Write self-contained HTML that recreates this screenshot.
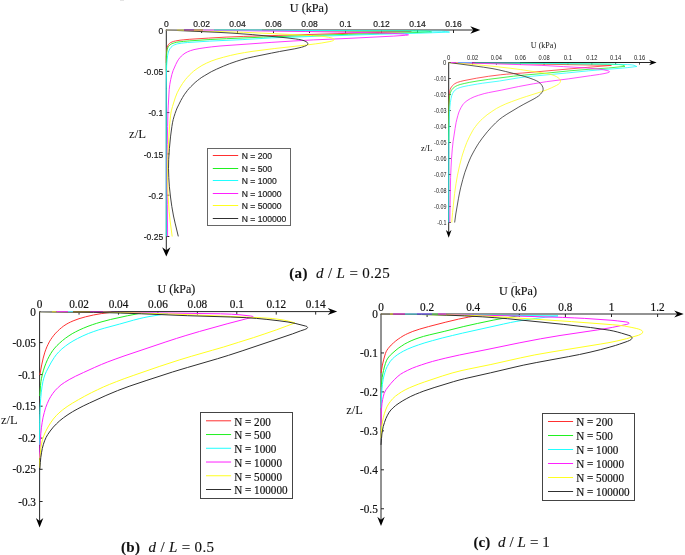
<!DOCTYPE html>
<html><head><meta charset="utf-8"><title>Figure</title>
<style>html,body{margin:0;padding:0;background:#fff;}svg{display:block;}</style></head>
<body><svg width="685" height="555" viewBox="0 0 685 555">
<rect width="685" height="555" fill="#fff"/>
<line x1="165.80" y1="30.00" x2="474.30" y2="30.00" stroke="#262626" stroke-width="1"/>
<line x1="166.30" y1="30.00" x2="166.30" y2="251.50" stroke="#262626" stroke-width="1"/>
<line x1="201.60" y1="30.00" x2="201.60" y2="33.00" stroke="#262626" stroke-width="1"/>
<line x1="237.50" y1="30.00" x2="237.50" y2="33.00" stroke="#262626" stroke-width="1"/>
<line x1="273.50" y1="30.00" x2="273.50" y2="33.00" stroke="#262626" stroke-width="1"/>
<line x1="309.50" y1="30.00" x2="309.50" y2="33.00" stroke="#262626" stroke-width="1"/>
<line x1="345.50" y1="30.00" x2="345.50" y2="33.00" stroke="#262626" stroke-width="1"/>
<line x1="381.50" y1="30.00" x2="381.50" y2="33.00" stroke="#262626" stroke-width="1"/>
<line x1="417.50" y1="30.00" x2="417.50" y2="33.00" stroke="#262626" stroke-width="1"/>
<line x1="453.50" y1="30.00" x2="453.50" y2="33.00" stroke="#262626" stroke-width="1"/>
<line x1="166.30" y1="71.30" x2="169.30" y2="71.30" stroke="#262626" stroke-width="1"/>
<line x1="166.30" y1="112.60" x2="169.30" y2="112.60" stroke="#262626" stroke-width="1"/>
<line x1="166.30" y1="153.90" x2="169.30" y2="153.90" stroke="#262626" stroke-width="1"/>
<line x1="166.30" y1="195.20" x2="169.30" y2="195.20" stroke="#262626" stroke-width="1"/>
<line x1="166.30" y1="236.50" x2="169.30" y2="236.50" stroke="#262626" stroke-width="1"/>
<path d="M480.30 30.00 L470.30 26.20 L473.30 30.00 L470.30 33.80 Z" fill="#000"/>
<path d="M166.30 256.50 L162.15 247.30 L166.30 250.30 L170.45 247.30 Z" fill="#000"/>
<g fill="none" stroke-width="0.90" stroke-linejoin="round" stroke-linecap="butt"><path d="M166.3 30.0 L411.3 31.5" stroke="#ff3030"/><path d="M411.3 31.5 L278.1 35.4 L243.8 36.4 L226.1 37.1 L208.6 38.1 L189.2 39.3 L183.9 39.8 L180.0 40.2 L175.3 41.0 L173.6 41.4 L172.0 42.0 L170.6 42.6 L169.6 43.3 L168.8 44.1 L168.2 44.9 L167.7 46.0 L167.3 47.4 L166.9 49.3 L166.6 51.8 L166.3 56.8 L166.3 63.0" stroke="#ff3030"/><path d="M166.3 30.0 L405.8 30.9 L426.0 31.1 L428.8 31.4 L431.7 32.0" stroke="#20f020"/><path d="M431.7 32.0 L407.0 32.8 L379.3 33.5 L348.8 34.3 L263.6 37.1 L226.4 38.7 L210.1 39.5 L189.2 40.9 L183.5 41.4 L179.0 41.9 L176.5 42.3 L174.6 42.8 L172.9 43.3 L171.3 44.0 L170.1 44.8 L169.2 45.6 L168.5 46.5 L167.8 47.8 L167.3 49.2 L166.9 50.7 L166.7 52.4 L166.5 54.4 L166.3 61.6 L166.3 71.3" stroke="#20f020"/><path d="M166.3 30.0 L414.3 30.9 L441.3 31.2 L445.5 31.5 L449.5 32.1" stroke="#20ffff"/><path d="M449.5 32.1 L428.0 32.9 L377.1 34.3 L287.1 37.3 L271.6 37.9 L242.9 39.6 L209.7 41.1 L187.5 42.5 L181.8 43.1 L177.6 43.8 L176.2 44.2 L174.8 44.7 L173.4 45.4 L172.4 46.0 L171.0 47.3 L169.8 48.9 L168.8 50.9 L168.1 53.0 L167.6 55.7 L167.2 59.2 L166.7 64.7 L166.5 69.7 L166.2 88.2 L166.3 236.4" stroke="#20ffff"/><path d="M166.3 30.0 L272.0 31.0 L305.8 31.5 L337.8 32.1 L372.3 32.8 L392.3 33.4 L398.8 33.7 L404.5 34.1 L407.5 34.4 L408.2 34.6 L408.5 34.8 L408.3 34.9 L407.8 35.1 L405.4 35.3 L393.7 36.1 L346.0 38.5 L313.3 39.9 L293.1 41.0 L271.1 42.4 L220.0 46.0 L211.3 46.9 L205.1 47.7 L199.1 48.6 L194.0 49.6 L190.6 50.6 L187.6 51.8 L185.0 53.2 L182.6 55.0 L181.3 56.1 L180.0 57.6 L178.7 59.2 L177.5 61.1 L175.8 64.4 L173.1 70.6 L171.9 74.4 L170.7 79.5 L169.8 84.4 L169.2 89.6 L168.3 105.1 L167.9 113.3 L167.6 126.6 L167.3 144.6 L167.1 162.3 L167.1 181.6 L167.3 204.3 L167.6 236.5" stroke="#ff20ff"/><path d="M166.3 30.0 L214.8 31.4 L243.3 32.3 L274.5 33.7 L312.4 35.6 L321.7 36.3 L325.1 36.7 L328.6 37.3 L331.0 37.8 L332.6 38.3 L333.6 38.8 L333.9 39.2 L334.0 39.5 L333.9 40.0 L333.4 40.5 L332.6 40.8 L331.5 41.2 L329.1 41.7 L321.2 43.1 L315.3 43.9 L306.6 45.0 L274.8 48.5 L252.0 51.4 L244.6 52.6 L237.9 53.8 L230.6 55.4 L223.6 57.2 L216.9 59.1 L211.2 61.1 L206.4 63.2 L201.9 65.5 L197.1 68.6 L193.3 71.4 L191.5 73.1 L189.3 75.2 L187.3 77.4 L185.6 79.3 L182.5 83.5 L179.6 88.2 L177.2 92.8 L175.2 97.9 L172.5 106.5 L171.3 110.9 L170.5 115.8 L169.8 123.3 L168.7 139.0 L167.8 157.7 L167.6 168.9 L167.7 182.7 L168.2 197.4 L169.1 211.4 L170.1 220.9 L172.2 236.5" stroke="#ffff20"/><path d="M166.3 30.0 L219.0 32.4 L233.0 33.2 L252.2 34.6 L281.0 37.3 L287.0 37.9 L295.2 38.9 L298.7 39.4 L301.4 39.9 L304.0 40.7 L306.0 41.6 L307.3 42.5 L307.7 43.1 L307.8 43.6 L307.8 44.1 L307.6 44.5 L307.2 45.0 L306.5 45.5 L304.5 46.3 L301.4 47.3 L294.8 48.8 L279.6 51.5 L271.5 53.1 L253.8 56.7 L247.5 58.1 L241.9 59.6 L236.2 61.4 L229.6 63.7 L223.6 66.1 L216.5 69.2 L211.3 71.7 L204.8 75.5 L201.8 77.3 L199.6 78.9 L197.4 80.6 L195.1 82.5 L190.8 86.7 L188.9 88.7 L187.3 90.6 L184.2 94.8 L182.5 97.6 L180.9 100.4 L179.0 104.2 L177.1 108.0 L176.0 110.8 L175.0 113.6 L174.0 116.7 L173.2 119.6 L172.5 122.8 L171.9 126.5 L170.6 136.1 L169.4 148.6 L168.7 159.3 L168.5 168.3 L168.8 177.6 L169.4 186.8 L170.5 197.0 L171.8 206.4 L173.5 216.0 L175.1 223.1 L178.3 236.4" stroke="#303030"/></g>
<g stroke-width="1.2" fill="none"><line x1="167.0" y1="30.00" x2="177.0" y2="30.00" stroke="#b4b4b4"/><line x1="177.0" y1="30.00" x2="184.0" y2="30.00" stroke="#d8d060"/><line x1="184.0" y1="30.00" x2="194.0" y2="30.00" stroke="#a030a0"/><line x1="194.0" y1="30.00" x2="203.0" y2="30.00" stroke="#d89050"/><line x1="203.0" y1="30.00" x2="214.0" y2="30.00" stroke="#ff90ff"/><line x1="214.0" y1="30.00" x2="262.0" y2="30.00" stroke="#70d8f0"/></g>
<g font-family="'Liberation Sans', Arial, sans-serif" fill="#1a1a1a" stroke="#1a1a1a" stroke-width="0.2"><text transform="translate(166.30 27.40) scale(0.880 1)" font-size="9.70" text-anchor="middle">0</text><text transform="translate(201.60 27.40) scale(0.880 1)" font-size="9.70" text-anchor="middle">0.02</text><text transform="translate(237.50 27.40) scale(0.880 1)" font-size="9.70" text-anchor="middle">0.04</text><text transform="translate(273.50 27.40) scale(0.880 1)" font-size="9.70" text-anchor="middle">0.06</text><text transform="translate(309.50 27.40) scale(0.880 1)" font-size="9.70" text-anchor="middle">0.08</text><text transform="translate(345.50 27.40) scale(0.880 1)" font-size="9.70" text-anchor="middle">0.1</text><text transform="translate(381.50 27.40) scale(0.880 1)" font-size="9.70" text-anchor="middle">0.12</text><text transform="translate(417.50 27.40) scale(0.880 1)" font-size="9.70" text-anchor="middle">0.14</text><text transform="translate(453.50 27.40) scale(0.880 1)" font-size="9.70" text-anchor="middle">0.16</text><text transform="translate(163.20 33.60) scale(0.880 1)" font-size="9.70" text-anchor="end">0</text><text transform="translate(163.20 74.90) scale(0.880 1)" font-size="9.70" text-anchor="end">-0.05</text><text transform="translate(163.20 116.20) scale(0.880 1)" font-size="9.70" text-anchor="end">-0.1</text><text transform="translate(163.20 157.50) scale(0.880 1)" font-size="9.70" text-anchor="end">-0.15</text><text transform="translate(163.20 198.80) scale(0.880 1)" font-size="9.70" text-anchor="end">-0.2</text><text transform="translate(163.20 240.10) scale(0.880 1)" font-size="9.70" text-anchor="end">-0.25</text></g>
<text x="289.8" y="11.9" font-family="'Liberation Serif', 'Times New Roman', serif" font-size="12.2" fill="#111" stroke="#111" stroke-width="0.15">U (kPa)</text>
<text x="129" y="138" font-family="'Liberation Serif', 'Times New Roman', serif" font-size="12.8" fill="#111">z/L</text>
<rect x="207.5" y="148.5" width="83" height="77" fill="#fff" stroke="#666" stroke-width="1"/>
<g font-family="'Liberation Sans', Arial, sans-serif" fill="#1a1a1a" stroke="#1a1a1a" stroke-width="0.2"><line x1="212.8" y1="155.50" x2="238.2" y2="155.50" stroke="#ff3030" stroke-width="1"/><text transform="translate(241.70 159.10) scale(0.877 1)" font-size="9.80">N = 200</text><line x1="212.8" y1="168.50" x2="238.2" y2="168.50" stroke="#20f020" stroke-width="1"/><text transform="translate(241.70 172.10) scale(0.877 1)" font-size="9.80">N = 500</text><line x1="212.8" y1="180.50" x2="238.2" y2="180.50" stroke="#20ffff" stroke-width="1"/><text transform="translate(241.70 184.10) scale(0.877 1)" font-size="9.80">N = 1000</text><line x1="212.8" y1="193.50" x2="238.2" y2="193.50" stroke="#ff20ff" stroke-width="1"/><text transform="translate(241.70 197.10) scale(0.877 1)" font-size="9.80">N = 10000</text><line x1="212.8" y1="205.50" x2="238.2" y2="205.50" stroke="#ffff20" stroke-width="1"/><text transform="translate(241.70 209.10) scale(0.877 1)" font-size="9.80">N = 50000</text><line x1="212.8" y1="218.50" x2="238.2" y2="218.50" stroke="#303030" stroke-width="1"/><text transform="translate(241.70 222.10) scale(0.877 1)" font-size="9.80">N = 100000</text></g>
<clipPath id="clipI"><rect x="440" y="55" width="230" height="167.50"/></clipPath>
<line x1="448.20" y1="62.50" x2="651.60" y2="62.50" stroke="#262626" stroke-width="1"/>
<line x1="448.70" y1="62.50" x2="448.70" y2="232.80" stroke="#262626" stroke-width="1"/>
<line x1="472.55" y1="62.50" x2="472.55" y2="64.70" stroke="#262626" stroke-width="0.8"/>
<line x1="496.40" y1="62.50" x2="496.40" y2="64.70" stroke="#262626" stroke-width="0.8"/>
<line x1="520.25" y1="62.50" x2="520.25" y2="64.70" stroke="#262626" stroke-width="0.8"/>
<line x1="544.10" y1="62.50" x2="544.10" y2="64.70" stroke="#262626" stroke-width="0.8"/>
<line x1="567.95" y1="62.50" x2="567.95" y2="64.70" stroke="#262626" stroke-width="0.8"/>
<line x1="591.80" y1="62.50" x2="591.80" y2="64.70" stroke="#262626" stroke-width="0.8"/>
<line x1="615.65" y1="62.50" x2="615.65" y2="64.70" stroke="#262626" stroke-width="0.8"/>
<line x1="639.50" y1="62.50" x2="639.50" y2="64.70" stroke="#262626" stroke-width="0.8"/>
<line x1="448.70" y1="78.50" x2="450.90" y2="78.50" stroke="#262626" stroke-width="0.8"/>
<line x1="448.70" y1="94.50" x2="450.90" y2="94.50" stroke="#262626" stroke-width="0.8"/>
<line x1="448.70" y1="110.50" x2="450.90" y2="110.50" stroke="#262626" stroke-width="0.8"/>
<line x1="448.70" y1="126.50" x2="450.90" y2="126.50" stroke="#262626" stroke-width="0.8"/>
<line x1="448.70" y1="142.50" x2="450.90" y2="142.50" stroke="#262626" stroke-width="0.8"/>
<line x1="448.70" y1="158.50" x2="450.90" y2="158.50" stroke="#262626" stroke-width="0.8"/>
<line x1="448.70" y1="174.50" x2="450.90" y2="174.50" stroke="#262626" stroke-width="0.8"/>
<line x1="448.70" y1="190.50" x2="450.90" y2="190.50" stroke="#262626" stroke-width="0.8"/>
<line x1="448.70" y1="206.50" x2="450.90" y2="206.50" stroke="#262626" stroke-width="0.8"/>
<line x1="448.70" y1="222.50" x2="450.90" y2="222.50" stroke="#262626" stroke-width="0.8"/>
<path d="M656.60 62.50 L649.10 59.70 L651.30 62.50 L649.10 65.30 Z" fill="#000"/>
<path d="M448.70 237.80 L445.90 230.10 L448.70 232.30 L451.50 230.10 Z" fill="#000"/>
<g fill="none" stroke-width="0.80" stroke-linejoin="round" stroke-linecap="butt" clip-path="url(#clipI)"><path d="M448.7 62.5 L611.4 65.4" stroke="#ff3030"/><path d="M611.4 65.4 L587.9 67.3 L522.9 73.0 L506.5 74.2 L500.3 74.8 L488.4 76.3 L476.5 78.2 L464.0 80.6 L460.3 81.5 L457.7 82.3 L456.1 83.0 L454.8 83.7 L453.6 84.6 L452.5 85.6 L451.6 86.8 L450.8 88.0 L450.2 89.4 L449.8 91.1 L449.5 92.8 L449.3 94.8 L448.9 105.8 L448.7 115.5 L448.7 126.5" stroke="#ff3030"/><path d="M448.7 62.5 L534.9 63.5 L587.9 63.9 L607.7 64.2 L618.7 64.5 L620.9 64.7 L622.1 64.9 L623.1 65.2 L623.9 65.6 L624.9 66.3" stroke="#20f020"/><path d="M625.0 66.3 L608.5 68.0 L590.1 69.2 L569.9 70.8 L545.0 73.3 L524.1 75.1 L513.4 76.2 L488.8 79.3 L478.0 80.9 L469.8 82.3 L464.2 83.5 L460.1 84.5 L457.3 85.5 L455.7 86.3 L454.2 87.3 L453.1 88.2 L452.2 89.3 L451.4 90.6 L450.6 92.2 L450.1 93.8 L449.7 95.8 L449.1 102.0 L448.8 108.5 L448.7 123.5 L448.7 142.5" stroke="#20f020"/><path d="M448.7 62.5 L592.7 63.9 L613.4 64.2 L627.7 64.6 L631.2 64.8 L632.7 65.0 L634.1 65.3 L635.2 65.8 L636.8 66.5" stroke="#20ffff"/><path d="M636.8 66.5 L627.8 67.6 L622.4 68.1 L597.2 70.1 L588.7 70.8 L566.6 73.0 L529.0 76.5 L523.3 77.2 L518.6 77.8 L499.6 81.0 L482.7 83.2 L477.5 84.0 L468.4 85.6 L463.0 86.7 L460.9 87.3 L459.0 87.9 L457.6 88.5 L456.3 89.2 L455.1 90.1 L454.2 91.0 L453.4 92.2 L452.6 93.5 L451.7 95.8 L451.0 98.7 L450.4 102.4 L449.9 106.8 L449.6 111.6 L449.3 117.6 L449.0 129.8 L448.8 139.1 L448.7 174.8 L448.7 462.5" stroke="#20ffff"/><path d="M448.7 62.5 L484.9 63.5 L519.4 64.6 L541.9 65.4 L563.4 66.6 L585.8 67.9 L599.0 69.1 L603.2 69.7 L606.9 70.5 L608.9 71.1 L609.4 71.5 L609.5 71.8 L609.3 72.1 L608.9 72.3 L607.2 72.9 L604.0 73.6 L599.6 74.4 L590.4 75.7 L568.2 78.9 L546.3 81.7 L533.3 83.8 L518.3 86.6 L501.1 90.2 L488.6 92.6 L484.2 93.6 L478.5 95.3 L474.2 96.8 L470.4 98.6 L467.0 100.7 L464.7 102.6 L463.6 103.6 L462.7 104.8 L461.0 107.6 L459.4 110.9 L458.6 113.0 L457.9 115.4 L456.9 119.1 L456.1 122.5 L455.1 128.4 L453.1 141.5 L452.3 148.9 L451.5 158.9 L451.0 167.9 L450.6 177.6 L449.8 223.6 L449.4 284.6 L449.3 355.9 L449.5 462.4" stroke="#ff20ff"/><path d="M448.7 62.5 L481.1 65.2 L490.8 66.1 L500.0 67.1 L510.9 68.3 L520.6 69.6 L545.8 73.4 L549.0 74.0 L551.7 74.7 L554.0 75.5 L556.3 76.5 L558.2 77.7 L559.5 78.8 L559.9 79.3 L560.3 79.9 L560.5 81.0 L560.4 81.7 L560.0 82.5 L559.5 83.3 L558.6 84.1 L556.7 85.3 L551.3 87.9 L547.4 89.6 L541.8 91.6 L526.3 96.5 L520.8 98.3 L511.7 101.6 L505.8 103.9 L500.8 106.2 L496.4 108.5 L491.8 111.5 L487.1 114.8 L482.5 118.7 L480.7 120.4 L479.0 122.2 L477.2 124.3 L475.5 126.5 L474.0 128.5 L472.7 130.6 L469.4 136.8 L466.8 142.4 L464.6 148.3 L462.7 154.0 L461.6 157.6 L459.5 165.8 L457.5 175.1 L456.0 183.7 L454.6 193.4 L452.6 212.5 L452.0 218.7 L451.5 228.0 L451.0 242.5 L450.3 272.5 L449.7 309.7 L449.5 331.0 L449.6 358.2 L450.0 387.0 L450.6 414.2 L451.2 432.2 L452.6 462.4" stroke="#ffff20"/><path d="M448.7 62.5 L483.6 67.2 L493.0 68.7 L498.9 69.9 L505.7 71.5 L513.7 73.5 L524.8 76.5 L528.9 77.8 L533.8 79.6 L536.6 80.8 L538.5 81.9 L540.2 83.3 L541.0 84.2 L541.8 85.2 L542.8 87.2 L543.0 88.1 L543.1 89.1 L543.1 89.8 L542.9 90.7 L542.5 91.6 L541.9 92.4 L540.5 94.2 L538.5 96.0 L536.6 97.3 L534.1 98.8 L523.9 104.2 L518.2 107.4 L506.9 114.2 L502.5 117.1 L499.1 119.7 L495.6 122.9 L491.1 127.5 L487.3 131.8 L482.3 138.1 L478.7 143.2 L477.0 145.9 L474.8 149.6 L472.4 154.0 L470.8 157.1 L469.5 160.1 L468.0 163.8 L464.9 172.3 L462.8 179.4 L460.6 187.9 L459.5 193.0 L458.5 198.2 L455.8 214.0 L454.4 224.4 L453.3 235.8 L452.4 249.3 L451.6 268.0 L450.8 292.0 L450.3 313.0 L450.2 330.5 L450.3 348.5 L450.8 366.5 L451.5 386.2 L452.4 405.0 L453.5 423.4 L454.5 436.4 L456.7 462.5" stroke="#303030"/></g>
<g stroke-width="1.0" fill="none"><line x1="451.0" y1="62.50" x2="456.0" y2="62.50" stroke="#e040e0"/><line x1="456.0" y1="62.50" x2="458.0" y2="62.50" stroke="#ff9090"/><line x1="458.0" y1="62.50" x2="472.0" y2="62.50" stroke="#70a0ff"/><line x1="472.0" y1="62.50" x2="475.0" y2="62.50" stroke="#a030a0"/><line x1="475.0" y1="62.50" x2="520.0" y2="62.50" stroke="#409090"/></g>
<g font-family="'Liberation Sans', Arial, sans-serif" font-size="7.8" fill="#1a1a1a"><text x="447.05" y="60.4" textLength="3.3" lengthAdjust="spacingAndGlyphs">0</text><text x="466.95" y="60.4" textLength="11.2" lengthAdjust="spacingAndGlyphs">0.02</text><text x="490.80" y="60.4" textLength="11.2" lengthAdjust="spacingAndGlyphs">0.04</text><text x="514.65" y="60.4" textLength="11.2" lengthAdjust="spacingAndGlyphs">0.06</text><text x="538.50" y="60.4" textLength="11.2" lengthAdjust="spacingAndGlyphs">0.08</text><text x="563.80" y="60.4" textLength="8.3" lengthAdjust="spacingAndGlyphs">0.1</text><text x="586.20" y="60.4" textLength="11.2" lengthAdjust="spacingAndGlyphs">0.12</text><text x="610.05" y="60.4" textLength="11.2" lengthAdjust="spacingAndGlyphs">0.14</text><text x="633.90" y="60.4" textLength="11.2" lengthAdjust="spacingAndGlyphs">0.16</text><text x="443.10" y="64.60" textLength="3.3" lengthAdjust="spacingAndGlyphs">0</text><text x="434.10" y="80.60" textLength="12.3" lengthAdjust="spacingAndGlyphs">-0.01</text><text x="434.10" y="96.60" textLength="12.3" lengthAdjust="spacingAndGlyphs">-0.02</text><text x="434.10" y="112.60" textLength="12.3" lengthAdjust="spacingAndGlyphs">-0.03</text><text x="434.10" y="128.60" textLength="12.3" lengthAdjust="spacingAndGlyphs">-0.04</text><text x="434.10" y="144.60" textLength="12.3" lengthAdjust="spacingAndGlyphs">-0.05</text><text x="434.10" y="160.60" textLength="12.3" lengthAdjust="spacingAndGlyphs">-0.06</text><text x="434.10" y="176.60" textLength="12.3" lengthAdjust="spacingAndGlyphs">-0.07</text><text x="434.10" y="192.60" textLength="12.3" lengthAdjust="spacingAndGlyphs">-0.08</text><text x="434.10" y="208.60" textLength="12.3" lengthAdjust="spacingAndGlyphs">-0.09</text><text x="437.20" y="224.60" textLength="9.2" lengthAdjust="spacingAndGlyphs">-0.1</text></g>
<text x="530.8" y="48.3" font-family="'Liberation Serif', 'Times New Roman', serif" font-size="9.2" fill="#111" textLength="25.3" lengthAdjust="spacingAndGlyphs">U (kPa)</text>
<text x="421" y="151.1" font-family="'Liberation Serif', 'Times New Roman', serif" font-size="9.2" fill="#111" textLength="11.4" lengthAdjust="spacingAndGlyphs">z/L</text>
<line x1="39.10" y1="311.60" x2="331.20" y2="311.60" stroke="#262626" stroke-width="1"/>
<line x1="39.60" y1="311.60" x2="39.60" y2="522.40" stroke="#262626" stroke-width="1"/>
<line x1="79.04" y1="311.60" x2="79.04" y2="314.60" stroke="#262626" stroke-width="1"/>
<line x1="118.48" y1="311.60" x2="118.48" y2="314.60" stroke="#262626" stroke-width="1"/>
<line x1="157.92" y1="311.60" x2="157.92" y2="314.60" stroke="#262626" stroke-width="1"/>
<line x1="197.36" y1="311.60" x2="197.36" y2="314.60" stroke="#262626" stroke-width="1"/>
<line x1="236.80" y1="311.60" x2="236.80" y2="314.60" stroke="#262626" stroke-width="1"/>
<line x1="276.24" y1="311.60" x2="276.24" y2="314.60" stroke="#262626" stroke-width="1"/>
<line x1="315.68" y1="311.60" x2="315.68" y2="314.60" stroke="#262626" stroke-width="1"/>
<line x1="39.60" y1="342.60" x2="42.60" y2="342.60" stroke="#262626" stroke-width="1"/>
<line x1="39.60" y1="374.60" x2="42.60" y2="374.60" stroke="#262626" stroke-width="1"/>
<line x1="39.60" y1="406.20" x2="42.60" y2="406.20" stroke="#262626" stroke-width="1"/>
<line x1="39.60" y1="438.10" x2="42.60" y2="438.10" stroke="#262626" stroke-width="1"/>
<line x1="39.60" y1="469.30" x2="42.60" y2="469.30" stroke="#262626" stroke-width="1"/>
<line x1="39.60" y1="501.50" x2="42.60" y2="501.50" stroke="#262626" stroke-width="1"/>
<path d="M337.20 311.60 L327.70 308.10 L330.70 311.60 L327.70 315.10 Z" fill="#000"/>
<path d="M39.60 527.40 L35.90 517.90 L39.60 520.90 L43.30 517.90 Z" fill="#000"/>
<g fill="none" stroke-width="1.00" stroke-linejoin="round" stroke-linecap="butt"><path d="M39.6 311.6 L78.6 311.9 L111.1 312.3" stroke="#ff3030"/><path d="M111.2 312.3 L101.3 313.6 L93.4 315.0 L85.6 316.8 L79.0 318.7 L73.1 320.9 L70.6 322.0 L68.2 323.2 L66.1 324.4 L63.8 325.9 L61.6 327.6 L59.6 329.3 L57.6 331.2 L55.7 333.1 L53.9 335.2 L52.3 337.3 L50.7 339.6 L49.3 341.9 L48.1 344.3 L46.9 346.8 L45.9 349.3 L44.9 352.1 L43.2 358.1 L41.7 364.9 L39.8 375.0" stroke="#ff3030"/><path d="M39.6 311.6 L96.6 312.2 L142.0 312.9" stroke="#20f020"/><path d="M142.0 312.9 L127.3 315.8 L110.4 319.5 L101.0 322.0 L96.7 323.3 L92.7 324.6 L88.0 326.3 L83.4 328.2 L79.1 330.1 L75.5 331.9 L72.2 333.7 L68.9 335.8 L65.6 338.1 L62.5 340.5 L59.7 343.0 L57.0 345.5 L54.7 348.1 L52.7 350.6 L50.9 353.3 L49.2 356.3 L47.5 359.6 L45.9 363.3 L44.5 367.0 L43.3 370.8 L42.3 374.6 L41.5 378.3 L40.9 381.7 L40.5 385.4 L39.8 396.0" stroke="#20f020"/><path d="M39.6 311.6 L101.3 312.3 L168.0 313.5" stroke="#20ffff"/><path d="M168.0 313.5 L149.0 316.6 L143.9 317.6 L139.2 318.7 L133.4 320.2 L119.5 324.1 L104.3 328.2 L98.8 329.8 L93.8 331.5 L88.4 333.5 L82.9 335.9 L77.6 338.5 L73.0 341.0 L69.0 343.5 L65.4 346.1 L61.9 348.9 L58.7 352.0 L56.2 354.8 L54.2 357.6 L51.4 362.0 L48.7 367.0 L46.4 371.4 L44.9 374.8 L43.8 378.1 L42.9 381.7 L42.0 386.8 L41.3 392.2 L40.7 398.4 L40.2 405.7 L39.9 413.4 L39.7 422.1 L39.6 444.9" stroke="#20ffff"/><path d="M39.6 311.6 L120.8 312.4 L220.6 313.8 L231.3 314.2 L240.0 314.8 L250.6 316.0 L252.5 316.4 L253.0 316.6 L253.1 316.8 L252.8 317.1 L251.9 317.5 L245.9 318.9 L227.1 323.8 L199.4 331.5 L185.9 335.5 L176.6 338.4 L165.9 341.9 L124.0 356.0 L115.1 359.2 L107.8 361.9 L101.6 364.4 L94.7 367.4 L83.5 372.5 L75.4 376.3 L69.2 379.6 L64.6 382.4 L61.1 384.8 L58.2 387.4 L55.4 390.2 L52.9 393.3 L50.8 396.4 L48.9 399.8 L47.2 403.7 L45.6 407.8 L44.3 412.4 L43.1 417.2 L42.2 422.3 L41.4 427.8 L40.8 433.7 L40.3 440.5 L39.9 447.9 L39.6 457.9" stroke="#ff20ff"/><path d="M39.6 311.6 L97.8 312.2 L130.3 312.8 L175.8 314.2 L220.3 316.0 L261.2 317.8 L267.2 318.1 L272.2 318.5 L277.9 319.2 L283.1 320.0 L288.2 321.1 L294.9 322.9" stroke="#ffff20"/><path d="M295.0 322.9 L286.8 326.0 L276.3 329.9 L264.9 333.8 L253.3 337.7 L238.3 342.4 L223.3 347.1 L212.5 350.2 L191.3 356.3 L179.1 360.0 L159.2 366.5 L133.2 375.5 L124.2 378.7 L116.3 381.7 L109.5 384.4 L103.3 387.0 L97.4 389.8 L91.4 392.7 L84.7 396.2 L78.4 399.7 L72.4 403.2 L67.1 406.6 L62.7 409.8 L58.9 413.0 L56.1 415.8 L53.3 419.0 L50.6 422.8 L48.0 427.0 L45.8 431.2 L44.0 435.2 L42.6 439.2 L41.7 443.1 L40.9 447.7 L40.3 453.4 L39.9 459.6 L39.6 468.0" stroke="#ffff20"/><path d="M39.6 311.6 L93.6 312.4 L120.8 313.0 L141.6 313.8 L187.3 315.7 L230.8 317.0 L246.7 317.7 L256.5 318.4 L266.9 319.4 L279.1 320.8 L288.0 322.0 L295.1 323.4 L305.4 326.0 L306.2 326.2 L307.0 326.6 L307.4 327.1 L307.6 327.4 L307.4 328.0 L306.9 328.5 L305.9 329.0 L304.8 329.5 L300.5 330.9 L292.5 333.9 L281.0 337.8 L242.1 350.9 L228.6 355.3 L217.6 358.7 L187.4 367.5 L172.5 372.0 L146.1 380.6 L129.1 386.3 L117.6 390.6 L105.9 395.5 L89.5 403.0 L83.2 406.0 L77.8 408.8 L72.6 411.7 L68.0 414.6 L63.7 417.6 L59.8 420.7 L56.4 423.9 L53.3 427.1 L50.2 431.0 L47.7 434.6 L46.0 437.6 L44.6 440.8 L43.4 444.3 L42.3 448.4 L41.5 452.8 L40.8 457.4 L40.3 462.7 L39.7 469.9" stroke="#303030"/></g>
<g stroke-width="1.2" fill="none"><line x1="40.5" y1="311.60" x2="52.0" y2="311.60" stroke="#909090"/><line x1="52.0" y1="311.60" x2="56.5" y2="311.60" stroke="#c8c040"/><line x1="56.5" y1="311.60" x2="68.0" y2="311.60" stroke="#e040e0"/><line x1="68.0" y1="311.60" x2="73.0" y2="311.60" stroke="#60d8e8"/><line x1="73.0" y1="311.60" x2="90.0" y2="311.60" stroke="#807030"/><line x1="90.0" y1="311.60" x2="103.0" y2="311.60" stroke="#a030a0"/></g>
<g font-family="'Liberation Serif', 'Times New Roman', serif" fill="#111" stroke="#111" stroke-width="0.2"><text transform="translate(39.60 308.40) scale(0.940 1)" font-size="12.00" text-anchor="middle">0</text><text transform="translate(79.04 308.40) scale(0.940 1)" font-size="12.00" text-anchor="middle">0.02</text><text transform="translate(118.48 308.40) scale(0.940 1)" font-size="12.00" text-anchor="middle">0.04</text><text transform="translate(157.92 308.40) scale(0.940 1)" font-size="12.00" text-anchor="middle">0.06</text><text transform="translate(197.36 308.40) scale(0.940 1)" font-size="12.00" text-anchor="middle">0.08</text><text transform="translate(236.80 308.40) scale(0.940 1)" font-size="12.00" text-anchor="middle">0.1</text><text transform="translate(276.24 308.40) scale(0.940 1)" font-size="12.00" text-anchor="middle">0.12</text><text transform="translate(315.68 308.40) scale(0.940 1)" font-size="12.00" text-anchor="middle">0.14</text><text transform="translate(36.00 315.70) scale(0.940 1)" font-size="12.00" text-anchor="end">0</text><text transform="translate(36.00 346.70) scale(0.940 1)" font-size="12.00" text-anchor="end">-0.05</text><text transform="translate(36.00 378.70) scale(0.940 1)" font-size="12.00" text-anchor="end">-0.1</text><text transform="translate(36.00 410.30) scale(0.940 1)" font-size="12.00" text-anchor="end">-0.15</text><text transform="translate(36.00 442.20) scale(0.940 1)" font-size="12.00" text-anchor="end">-0.2</text><text transform="translate(36.00 473.40) scale(0.940 1)" font-size="12.00" text-anchor="end">-0.25</text><text transform="translate(36.00 505.60) scale(0.940 1)" font-size="12.00" text-anchor="end">-0.3</text></g>
<text x="157.6" y="293.2" font-family="'Liberation Serif', 'Times New Roman', serif" font-size="12.0" fill="#111" stroke="#111" stroke-width="0.15">U (kPa)</text>
<text x="1" y="424" font-family="'Liberation Serif', 'Times New Roman', serif" font-size="12.5" fill="#111">z/L</text>
<rect x="200.5" y="412.5" width="92" height="86" fill="#fff" stroke="#444" stroke-width="1"/>
<g font-family="'Liberation Serif', 'Times New Roman', serif" fill="#111" stroke="#111" stroke-width="0.2"><line x1="206" y1="420.80" x2="231.1" y2="420.80" stroke="#ff3030" stroke-width="1"/><text transform="translate(234.20 425.60) scale(0.900 1)" font-size="12.40">N = 200</text><line x1="206" y1="434.54" x2="231.1" y2="434.54" stroke="#20f020" stroke-width="1"/><text transform="translate(234.20 439.34) scale(0.900 1)" font-size="12.40">N = 500</text><line x1="206" y1="448.28" x2="231.1" y2="448.28" stroke="#20ffff" stroke-width="1"/><text transform="translate(234.20 453.08) scale(0.900 1)" font-size="12.40">N = 1000</text><line x1="206" y1="462.02" x2="231.1" y2="462.02" stroke="#ff20ff" stroke-width="1"/><text transform="translate(234.20 466.82) scale(0.900 1)" font-size="12.40">N = 10000</text><line x1="206" y1="475.76" x2="231.1" y2="475.76" stroke="#ffff20" stroke-width="1"/><text transform="translate(234.20 480.56) scale(0.900 1)" font-size="12.40">N = 50000</text><line x1="206" y1="489.50" x2="231.1" y2="489.50" stroke="#303030" stroke-width="1"/><text transform="translate(234.20 494.30) scale(0.900 1)" font-size="12.40">N = 100000</text></g>
<line x1="380.50" y1="314.00" x2="677.70" y2="314.00" stroke="#262626" stroke-width="1"/>
<line x1="381.00" y1="314.00" x2="381.00" y2="521.00" stroke="#262626" stroke-width="1"/>
<line x1="427.10" y1="314.00" x2="427.10" y2="317.00" stroke="#262626" stroke-width="1"/>
<line x1="473.20" y1="314.00" x2="473.20" y2="317.00" stroke="#262626" stroke-width="1"/>
<line x1="519.30" y1="314.00" x2="519.30" y2="317.00" stroke="#262626" stroke-width="1"/>
<line x1="565.40" y1="314.00" x2="565.40" y2="317.00" stroke="#262626" stroke-width="1"/>
<line x1="611.50" y1="314.00" x2="611.50" y2="317.00" stroke="#262626" stroke-width="1"/>
<line x1="657.60" y1="314.00" x2="657.60" y2="317.00" stroke="#262626" stroke-width="1"/>
<line x1="381.00" y1="352.95" x2="384.00" y2="352.95" stroke="#262626" stroke-width="1"/>
<line x1="381.00" y1="391.90" x2="384.00" y2="391.90" stroke="#262626" stroke-width="1"/>
<line x1="381.00" y1="430.85" x2="384.00" y2="430.85" stroke="#262626" stroke-width="1"/>
<line x1="381.00" y1="469.80" x2="384.00" y2="469.80" stroke="#262626" stroke-width="1"/>
<line x1="381.00" y1="508.75" x2="384.00" y2="508.75" stroke="#262626" stroke-width="1"/>
<path d="M683.70 314.00 L674.20 310.50 L677.20 314.00 L674.20 317.50 Z" fill="#000"/>
<path d="M381.00 526.00 L377.30 516.70 L381.00 519.70 L384.70 516.70 Z" fill="#000"/>
<g fill="none" stroke-width="1.00" stroke-linejoin="round" stroke-linecap="butt"><path d="M381.0 314.1 L430.2 314.5 L480.0 315.2" stroke="#ff3030"/><path d="M480.0 315.2 L468.7 317.1 L458.6 319.1 L445.2 322.3 L428.5 326.6 L419.7 329.1 L412.8 331.4 L407.8 333.5 L405.5 334.6 L403.1 335.9 L400.6 337.5 L398.2 339.1 L395.8 340.9 L393.6 342.8 L391.2 345.0 L389.4 347.0 L388.0 348.7 L386.9 350.3 L386.1 351.8 L385.4 353.6 L383.8 359.1 L382.4 365.1 L381.1 373.0" stroke="#ff3030"/><path d="M381.0 314.1 L520.0 315.6" stroke="#20f020"/><path d="M520.0 315.6 L506.2 317.8 L493.9 320.0 L477.7 323.4 L463.8 326.5 L444.2 331.4 L429.3 334.9 L423.5 336.4 L419.0 337.8 L415.0 339.2 L411.1 340.8 L407.8 342.4 L404.7 344.0 L401.8 345.9 L398.9 347.8 L396.0 350.1 L393.0 352.7 L390.3 355.2 L388.7 357.0 L387.4 358.9 L386.4 360.8 L385.5 363.3 L384.4 366.9 L383.5 370.5 L382.8 373.9 L382.2 377.5 L381.1 386.9" stroke="#20f020"/><path d="M381.0 314.1 L469.7 314.9 L558.0 315.9" stroke="#20ffff"/><path d="M558.0 315.9 L545.8 317.2 L535.9 318.4 L526.0 319.8 L516.9 321.3 L510.5 322.5 L503.6 324.0 L462.6 333.1 L452.4 335.5 L442.2 338.0 L432.6 340.6 L424.9 342.8 L418.5 344.9 L412.9 346.9 L407.8 349.0 L403.5 351.1 L400.3 352.9 L397.2 354.9 L394.5 357.0 L392.3 359.0 L390.4 361.2 L388.8 363.7 L387.2 366.5 L385.9 369.4 L384.9 372.4 L383.9 376.0 L383.1 379.8 L382.4 384.3 L382.0 388.7 L381.6 394.0 L381.0 407.9" stroke="#20ffff"/><path d="M381.0 314.1 L434.5 314.4 L465.2 314.9 L504.5 315.7 L562.7 317.4 L574.2 317.9 L584.7 318.4 L612.0 320.3 L617.5 320.9 L625.9 321.9 L627.3 322.2 L628.4 322.5 L628.9 322.8 L629.2 323.1 L629.1 323.4 L628.6 323.7 L626.8 324.4 L612.3 327.4 L597.8 329.9 L560.0 335.5 L540.5 338.8 L519.1 342.9 L488.0 349.3 L459.4 355.0 L445.2 358.2 L438.7 359.8 L432.6 361.4 L426.9 363.1 L421.4 364.9 L416.7 366.5 L412.3 368.2 L407.7 370.3 L403.6 372.4 L400.6 374.2 L397.9 376.3 L394.3 379.7 L390.8 383.5 L387.3 387.9 L386.1 389.6 L385.3 391.0 L384.2 393.3 L383.4 396.1 L382.6 399.7 L382.0 403.6 L381.6 407.8 L381.3 412.5 L381.0 426.0" stroke="#ff20ff"/><path d="M381.0 314.1 L441.5 314.8 L460.5 315.2 L477.0 315.7 L488.2 316.2 L499.9 316.9 L571.5 321.6 L612.2 324.7 L618.9 325.3 L624.3 326.0 L631.1 327.3 L636.2 328.4 L638.8 329.1 L640.6 329.8 L641.8 330.5 L642.5 331.3 L642.7 331.7 L642.7 332.1 L642.4 332.9 L641.5 333.8 L640.2 334.5 L638.4 335.3 L626.5 338.7 L616.9 341.0 L609.0 342.6 L600.2 344.1 L552.0 351.9 L534.8 354.9 L520.4 357.9 L490.9 364.5 L468.8 369.0 L461.0 370.7 L452.1 373.0 L442.3 376.0 L424.7 381.9 L418.8 384.0 L414.0 385.9 L409.4 387.8 L405.1 389.9 L401.5 391.9 L398.4 394.0 L395.4 396.2 L392.7 398.7 L390.5 401.3 L388.6 403.9 L386.9 406.9 L385.6 410.1 L384.3 413.8 L383.3 417.7 L382.5 421.8 L381.9 426.2 L381.5 431.2 L381.0 437.9" stroke="#ffff20"/><path d="M381.0 314.1 L421.5 314.5 L434.0 314.7 L446.2 315.1 L464.7 315.9 L482.2 316.8 L494.9 317.7 L507.4 318.7 L563.8 324.4 L590.4 327.5 L604.0 329.4 L609.2 330.2 L613.8 331.1 L617.8 332.1 L621.7 333.2 L628.9 335.4 L630.3 335.9 L631.1 336.4 L631.5 336.8 L631.9 337.4 L632.0 337.9 L631.8 338.7 L630.9 339.7 L629.7 340.4 L627.6 341.3 L619.6 344.1 L615.3 345.5 L609.1 347.3 L600.7 349.6 L590.0 352.2 L579.5 354.5 L568.7 356.6 L536.2 362.6 L523.2 365.2 L514.0 367.3 L490.6 372.8 L464.5 378.7 L459.0 380.1 L453.7 381.6 L434.1 387.6 L423.9 391.0 L419.5 392.7 L415.3 394.4 L410.8 396.4 L406.8 398.5 L402.9 400.7 L399.1 403.1 L395.7 405.5 L393.1 407.8 L391.0 409.9 L389.2 412.2 L387.5 415.2 L385.9 418.5 L384.5 422.4 L383.2 426.7 L382.5 430.3 L381.9 434.0 L381.5 438.5 L381.0 444.9" stroke="#303030"/></g>
<g stroke-width="1.2" fill="none"><line x1="382.0" y1="314.00" x2="390.0" y2="314.00" stroke="#909090"/><line x1="390.0" y1="314.00" x2="393.0" y2="314.00" stroke="#d8d040"/><line x1="393.0" y1="314.00" x2="405.0" y2="314.00" stroke="#e040e0"/><line x1="405.0" y1="314.00" x2="417.0" y2="314.00" stroke="#60e0f0"/><line x1="417.0" y1="314.00" x2="432.0" y2="314.00" stroke="#7070ff"/><line x1="432.0" y1="314.00" x2="438.0" y2="314.00" stroke="#60e060"/><line x1="438.0" y1="314.00" x2="446.0" y2="314.00" stroke="#e040e0"/></g>
<g font-family="'Liberation Serif', 'Times New Roman', serif" fill="#111" stroke="#111" stroke-width="0.2"><text transform="translate(381.00 310.90) scale(0.940 1)" font-size="12.00" text-anchor="middle">0</text><text transform="translate(427.10 310.90) scale(0.940 1)" font-size="12.00" text-anchor="middle">0.2</text><text transform="translate(473.20 310.90) scale(0.940 1)" font-size="12.00" text-anchor="middle">0.4</text><text transform="translate(519.30 310.90) scale(0.940 1)" font-size="12.00" text-anchor="middle">0.6</text><text transform="translate(565.40 310.90) scale(0.940 1)" font-size="12.00" text-anchor="middle">0.8</text><text transform="translate(611.50 310.90) scale(0.940 1)" font-size="12.00" text-anchor="middle">1</text><text transform="translate(657.60 310.90) scale(0.940 1)" font-size="12.00" text-anchor="middle">1.2</text><text transform="translate(377.80 318.10) scale(0.940 1)" font-size="12.00" text-anchor="end">0</text><text transform="translate(377.80 357.05) scale(0.940 1)" font-size="12.00" text-anchor="end">-0.1</text><text transform="translate(377.80 396.00) scale(0.940 1)" font-size="12.00" text-anchor="end">-0.2</text><text transform="translate(377.80 434.95) scale(0.940 1)" font-size="12.00" text-anchor="end">-0.3</text><text transform="translate(377.80 473.90) scale(0.940 1)" font-size="12.00" text-anchor="end">-0.4</text><text transform="translate(377.80 512.85) scale(0.940 1)" font-size="12.00" text-anchor="end">-0.5</text></g>
<text x="499" y="295" font-family="'Liberation Serif', 'Times New Roman', serif" font-size="12.1" fill="#111" stroke="#111" stroke-width="0.15">U (kPa)</text>
<text x="346.3" y="414.2" font-family="'Liberation Serif', 'Times New Roman', serif" font-size="12.5" fill="#111">z/L</text>
<rect x="542.5" y="413.5" width="92" height="87" fill="#fff" stroke="#444" stroke-width="1"/>
<g font-family="'Liberation Serif', 'Times New Roman', serif" fill="#111" stroke="#111" stroke-width="0.2"><line x1="548" y1="421.50" x2="573.1" y2="421.50" stroke="#ff3030" stroke-width="1"/><text transform="translate(576.20 426.30) scale(0.900 1)" font-size="12.40">N = 200</text><line x1="548" y1="435.50" x2="573.1" y2="435.50" stroke="#20f020" stroke-width="1"/><text transform="translate(576.20 440.30) scale(0.900 1)" font-size="12.40">N = 500</text><line x1="548" y1="449.50" x2="573.1" y2="449.50" stroke="#20ffff" stroke-width="1"/><text transform="translate(576.20 454.30) scale(0.900 1)" font-size="12.40">N = 1000</text><line x1="548" y1="463.50" x2="573.1" y2="463.50" stroke="#ff20ff" stroke-width="1"/><text transform="translate(576.20 468.30) scale(0.900 1)" font-size="12.40">N = 10000</text><line x1="548" y1="477.50" x2="573.1" y2="477.50" stroke="#ffff20" stroke-width="1"/><text transform="translate(576.20 482.30) scale(0.900 1)" font-size="12.40">N = 50000</text><line x1="548" y1="491.50" x2="573.1" y2="491.50" stroke="#303030" stroke-width="1"/><text transform="translate(576.20 496.30) scale(0.900 1)" font-size="12.40">N = 100000</text></g>
<text x="289.20" y="277.90" font-family="'Liberation Serif', 'Times New Roman', serif" font-size="15" fill="#111" stroke="#111" stroke-width="0.12" style="white-space:pre" textLength="100.5" lengthAdjust="spacing"><tspan font-weight="bold">(a)</tspan>  <tspan font-style="italic">d</tspan> / <tspan font-style="italic">L</tspan> = 0.25</text>
<text x="121.00" y="551.50" font-family="'Liberation Serif', 'Times New Roman', serif" font-size="15" fill="#111" stroke="#111" stroke-width="0.12" style="white-space:pre" textLength="93.0" lengthAdjust="spacing"><tspan font-weight="bold">(b)</tspan>  <tspan font-style="italic">d</tspan> / <tspan font-style="italic">L</tspan> = 0.5</text>
<text x="473.40" y="546.50" font-family="'Liberation Serif', 'Times New Roman', serif" font-size="15" fill="#111" stroke="#111" stroke-width="0.12" style="white-space:pre" textLength="76.4" lengthAdjust="spacing"><tspan font-weight="bold">(c)</tspan>  <tspan font-style="italic">d</tspan> / <tspan font-style="italic">L</tspan> = 1</text>
<rect x="120" y="0" width="4" height="1" fill="#e4e4e4"/>
<rect x="512" y="282" width="4" height="1" fill="#dcdcdc"/>
</svg></body></html>
